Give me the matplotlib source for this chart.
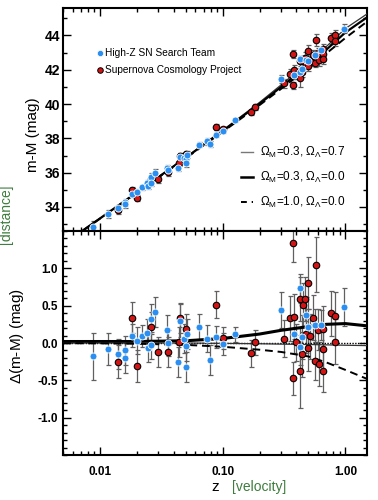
import numpy as np
import matplotlib
matplotlib.use('Agg')
import matplotlib.pyplot as plt
from matplotlib.ticker import FixedLocator, MultipleLocator, LogLocator, NullFormatter

plt.rcParams['font.family'] = ['Liberation Sans', 'DejaVu Sans']
plt.rcParams['mathtext.fontset'] = 'custom'
plt.rcParams['mathtext.rm'] = 'Liberation Sans'
plt.rcParams['mathtext.it'] = 'Liberation Sans'

# High-Z SN Search Team
z_hz = [0.0087, 0.0117, 0.0141, 0.0161, 0.0160, 0.0181, 0.0199, 0.0219, 0.0241, 0.0247,
        0.0262, 0.0262, 0.0280, 0.0354, 0.0360, 0.0432, 0.0448, 0.0483, 0.0499, 0.0500,
        0.0515, 0.0641, 0.0745, 0.0794, 0.0877, 0.101, 0.125, 0.301, 0.380, 0.428,
        0.428, 0.442, 0.476, 0.501, 0.564, 0.628, 0.973]
mu_hz = [32.85, 33.59, 33.93, 34.27, 34.16, 34.73, 34.87, 35.14, 35.40, 35.24,
         35.76, 35.41, 36.00, 36.27, 36.14, 36.29, 36.92, 36.85, 36.82, 36.55,
         37.05, 37.64, 37.82, 37.67, 38.21, 38.44, 39.06, 41.46, 41.72, 42.63,
         41.85, 42.06, 42.54, 42.51, 42.85, 43.14, 44.40]
dm_hz = [-0.18, -0.08, -0.15, -0.10, -0.20, 0.10, 0.03, 0.09, 0.14, -0.07,
         0.32, -0.03, 0.41, 0.17, 0.00, -0.25, 0.30, 0.06, -0.04, -0.32,
         0.12, 0.22, 0.06, -0.23, 0.08, -0.01, 0.12, 0.44, 0.12, 0.73,
         -0.05, 0.08, 0.37, 0.21, 0.24, 0.24, 0.48]
err_hz = [0.31, 0.21, 0.20, 0.20, 0.20, 0.15, 0.18, 0.15, 0.18, 0.18,
          0.20, 0.18, 0.20, 0.20, 0.18, 0.20, 0.22, 0.20, 0.20, 0.20,
          0.20, 0.17, 0.18, 0.20, 0.15, 0.15, 0.10, 0.24, 0.25, 0.20,
          0.25, 0.30, 0.25, 0.25, 0.22, 0.20, 0.25]

# Supernova Cosmology Project
z_scp = [0.0141, 0.0181, 0.0200, 0.0262, 0.0300, 0.0360, 0.0448, 0.0440, 0.0500, 0.0877,
         0.101, 0.171, 0.182, 0.316, 0.352, 0.375, 0.378, 0.382, 0.400, 0.425,
         0.430, 0.447, 0.450, 0.467, 0.480, 0.497, 0.497, 0.520, 0.546, 0.570,
         0.582, 0.600, 0.610, 0.652, 0.652, 0.652, 0.762, 0.820, 0.830]
mu_scp = [33.83, 34.97, 34.54, 35.65, 35.62, 36.02, 36.95, 36.59, 37.06, 38.64,
          38.52, 39.52, 39.82, 41.20, 41.74, 41.09, 42.92, 41.96, 41.74, 41.50,
          42.50, 41.86, 42.53, 42.71, 42.31, 43.08, 42.21, 42.49, 42.86, 42.39,
          43.74, 42.96, 42.54, 43.19, 42.92, 42.62, 43.83, 44.00, 43.69]
dm_scp = [-0.25, 0.34, -0.31, 0.21, -0.12, -0.12, 0.33, 0.01, 0.19, 0.51,
          0.07, -0.14, 0.01, 0.06, 0.33, -0.47, 1.34, 0.35, 0.01, -0.38,
          0.59, -0.15, 0.51, 0.59, 0.12, 0.80, -0.07, 0.09, 0.34, -0.24,
          1.05, 0.18, -0.28, 0.19, -0.08, -0.38, 0.40, 0.36, 0.02]
err_scp = [0.22, 0.21, 0.21, 0.20, 0.20, 0.20, 0.20, 0.20, 0.20, 0.18,
           0.15, 0.18, 0.17, 0.25, 0.30, 0.22, 0.25, 0.30, 0.25, 0.49,
           0.30, 0.30, 0.30, 0.30, 0.25, 0.35, 0.30, 0.30, 0.30, 0.25,
           0.37, 0.28, 0.30, 0.30, 0.30, 0.28, 0.30, 0.32, 0.30]

# model curves
z_mod = [0.005, 0.01, 0.02, 0.05, 0.1, 0.2, 0.3, 0.5, 0.7, 1.0, 1.5]
mu_lam = [31.82, 33.33, 34.86, 36.89, 38.47, 40.10, 41.12, 42.45, 43.35, 44.40, 45.25]
mu_open = [31.82, 33.33, 34.85, 36.87, 38.43, 40.02, 41.00, 42.28, 43.17, 44.17, 45.05]
mu_eds = [31.81, 33.32, 34.84, 36.84, 38.38, 39.94, 40.89, 42.12, 42.95, 43.85, 44.80]
dm_lam = [0.02, 0.02, 0.02, 0.03, 0.06, 0.12, 0.17, 0.22, 0.25, 0.26, 0.23]
dm_open = [0.0, 0.0, 0.0, 0.0, -0.005, -0.01, -0.015, -0.02, -0.025, -0.03, -0.035]
dm_eds = [-0.003, -0.005, -0.01, -0.025, -0.05, -0.09, -0.12, -0.18, -0.26, -0.36, -0.48]

blue = '#2a8ff0'
red = '#d41414'
green = '#3d7d3d'

fig = plt.figure(figsize=(3.78, 5.0), dpi=100)
ax1 = fig.add_axes([0.1667, 0.538, 0.804, 0.446])
ax2 = fig.add_axes([0.1667, 0.090, 0.804, 0.448])

ebkw = dict(fmt='none', ecolor='#606060', elinewidth=0.9, capsize=1.8, capthick=0.9, zorder=2)

# top panel
ax1.errorbar(z_scp, mu_scp, yerr=err_scp, **ebkw)
ax1.errorbar(z_hz, mu_hz, yerr=err_hz, **ebkw)
ax1.plot(z_mod, mu_lam, color='#333333', lw=0.9, zorder=3)
ax1.plot(z_mod, mu_open, color='black', lw=1.6, zorder=3)
ax1.plot(z_mod, mu_eds, color='black', lw=1.4, ls=(0, (4, 2.5)), zorder=3)
ax1.scatter(z_scp, mu_scp, s=22, c=red, edgecolors='black', linewidths=0.8, zorder=4)
ax1.scatter(z_hz, mu_hz, s=25, c=blue, edgecolors='white', linewidths=0.6, zorder=5)

# bottom panel
ax2.errorbar(z_scp, dm_scp, yerr=err_scp, **ebkw)
ax2.errorbar(z_hz, dm_hz, yerr=err_hz, **ebkw)
ax2.axhline(0, color='black', lw=1.0, ls=(0, (1, 1)), zorder=3)
ax2.plot(z_mod, dm_lam, color='black', lw=2.2, zorder=3)
ax2.plot(z_mod, dm_open, color='#333333', lw=0.9, zorder=3)
ax2.plot(z_mod, dm_eds, color='black', lw=1.4, ls=(0, (4, 2.5)), zorder=3)
ax2.scatter(z_scp, dm_scp, s=22, c=red, edgecolors='black', linewidths=0.8, zorder=4)
ax2.scatter(z_hz, dm_hz, s=25, c=blue, edgecolors='white', linewidths=0.6, zorder=5)

for ax in (ax1, ax2):
    ax.set_xscale('log')
    ax.set_xlim(0.005, 1.5)
    ax.tick_params(which='both', direction='in', top=True, right=True, width=1.0)
    ax.tick_params(which='major', length=6)
    ax.tick_params(which='minor', length=3)
    ax.xaxis.set_major_locator(FixedLocator([0.01, 0.1, 1.0]))
    ax.xaxis.set_minor_locator(LogLocator(base=10, subs=np.arange(2, 10)))
    ax.xaxis.set_minor_formatter(NullFormatter())
    for sp in ax.spines.values():
        sp.set_linewidth(1.5)

ax1.set_ylim(32.6, 45.6)
ax1.yaxis.set_major_locator(MultipleLocator(2))
ax1.yaxis.set_minor_locator(MultipleLocator(1))
ax1.set_xticklabels([])
ax1.tick_params(axis='y', pad=2)
for lab in ax1.get_yticklabels():
    lab.set_fontsize(10)
    lab.set_fontweight('bold')

ax2.set_ylim(-1.5, 1.5)
ax2.yaxis.set_major_locator(FixedLocator([-1.0, -0.5, 0.0, 0.5, 1.0]))
ax2.yaxis.set_minor_locator(MultipleLocator(0.1))
ax2.set_yticklabels(['-1.0', '-0.5', '0.0', '0.5', '1.0'], fontsize=8.5, fontweight='bold')
ax2.set_xticklabels(['0.01', '0.10', '1.00'], fontsize=8.5, fontweight='bold')
ax2.tick_params(axis='x', pad=8)

# data legend
ax1.scatter([0.122], [0.798], s=20, c=blue, edgecolors='white', linewidths=0.5, transform=ax1.transAxes, zorder=6)
ax1.text(0.138, 0.798, 'High-Z SN Search Team', transform=ax1.transAxes, fontsize=7.3, va='center')
ax1.scatter([0.122], [0.722], s=16, c=red, edgecolors='black', linewidths=0.7, transform=ax1.transAxes, zorder=6)
ax1.text(0.138, 0.722, 'Supernova Cosmology Project', transform=ax1.transAxes, fontsize=7.3, va='center')

# model legend
leg_y = [0.354, 0.242, 0.130]
leg_lbl = [r'$\Omega_M$=0.3, $\Omega_\Lambda$=0.7',
           r'$\Omega_M$=0.3, $\Omega_\Lambda$=0.0',
           r'$\Omega_M$=1.0, $\Omega_\Lambda$=0.0']
leg_sty = [dict(color='#777777', lw=1.0), dict(color='black', lw=1.8),
           dict(color='black', lw=1.4, ls=(0, (3, 2.5)))]
for yy, lbl, sty in zip(leg_y, leg_lbl, leg_sty):
    ax1.plot([0.586, 0.624], [yy, yy], transform=ax1.transAxes, **sty)
    ax1.text(0.648, yy, lbl, transform=ax1.transAxes, fontsize=8.5, va='center')

# axis labels
fig.text(33 / 378, 1 - 135 / 500, 'm-M (mag)', rotation=90, fontsize=11, ha='center', va='center')
fig.text(6 / 378, 1 - 214 / 500, '[distance]', rotation=90, fontsize=10, color=green, ha='center', va='center')
fig.text(17 / 378, 1 - 336 / 500, r'$\Delta$(m-M) (mag)', rotation=90, fontsize=11, ha='center', va='center')
fig.text(215 / 378, 1 - 487 / 500, 'z', fontsize=11, ha='center', va='center')
fig.text(259 / 378, 1 - 487 / 500, '[velocity]', fontsize=10, color=green, ha='center', va='center')

fig.savefig('out.png', dpi=100)
